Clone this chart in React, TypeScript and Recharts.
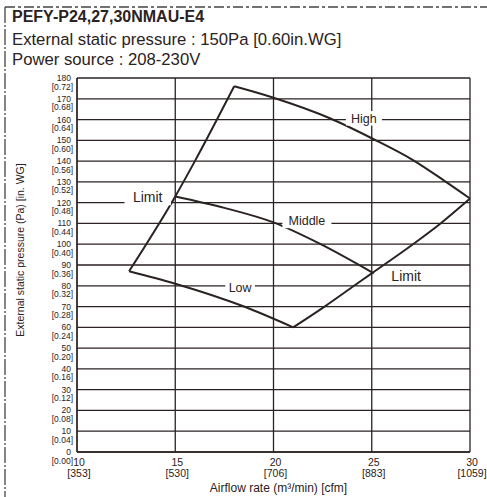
import { CartesianGrid, Label, Line, LineChart, ReferenceDot, XAxis, YAxis } from 'recharts';

const INK = '#2b2222';
const FONT = '"Liberation Sans", Arial, sans-serif';

const headerLines = [
  'PEFY-P24,27,30NMAU-E4',
  'External static pressure : 150Pa [0.60in.WG]',
  'Power source : 208-230V',
];

const flowTicks = [10, 15, 20, 25, 30];
const cfmLabels = ['353', '530', '706', '883', '1059'];
const pressureTicks = [0, 10, 20, 30, 40, 50, 60, 70, 80, 90, 100, 110, 120, 130, 140, 150, 160, 170, 180];
const inWgLabels = [
  '0.00', '0.04', '0.08', '0.12', '0.16', '0.20', '0.24', '0.28', '0.32', '0.36',
  '0.40', '0.44', '0.48', '0.52', '0.56', '0.60', '0.64', '0.68', '0.72',
];

// fan curves, airflow m3/min vs external static pressure Pa
const highFlow = [18, 20, 22.9, 25, 27.1, 28.7, 30];
const highPa = [176, 170.5, 160.5, 151, 140.5, 130.5, 122];
const middleFlow = [15, 17.5, 20, 22.3, 25.1];
const middlePa = [123, 117.5, 110.5, 100.5, 86];
const lowFlow = [12.65, 15, 18.5, 21];
const lowPa = [87, 81, 70, 60];
const limitLeftFlow = [12.65, 15, 16, 18];
const limitLeftPa = [87, 123, 140, 176];
const limitRightFlow = [21, 22.6, 24.1, 25, 27.1, 28.5, 30];
const limitRightPa = [60, 70, 80, 86, 100, 110, 122];

const tagText = ['High', 'Middle', 'Low', 'Limit', 'Limit'];
const tagFlow = [24.6, 21.7, 18.3, 13.6, 26.75];
const tagPa = [160.6, 111.2, 79, 122.6, 84.7];

const zip = (xs: number[], ys: number[]) => xs.map((x, i) => ({ x, y: ys[i] }));

const curves = [
  zip(highFlow, highPa),
  zip(middleFlow, middlePa),
  zip(lowFlow, lowPa),
  zip(limitLeftFlow, limitLeftPa),
  zip(limitRightFlow, limitRightPa),
];

const PressureTick = ({ x, y, payload }: any) => {
  const i = pressureTicks.indexOf(payload.value);
  return (
    <g fill={INK} fontFamily={FONT} fontSize={8.5}>
      <text x={x} y={y + 3} textAnchor="end">{payload.value}</text>
      <text x={x + 2} y={y + 11.5} textAnchor="end">[{inWgLabels[i]}]</text>
    </g>
  );
};

const FlowTick = ({ x, y, payload }: any) => {
  const i = flowTicks.indexOf(payload.value);
  return (
    <g fill={INK} fontFamily={FONT} fontSize={10.5} textAnchor="middle">
      <text x={x + 2} y={y + 14}>{payload.value}</text>
      <text x={x + 2} y={y + 24.5}>[{cfmLabels[i]}]</text>
    </g>
  );
};

const CurveTag = ({ cx, cy, text }: any) => {
  const size = text === 'Limit' ? 14 : 12.5;
  const w = text.length * size * 0.52 + 10;
  return (
    <g>
      <rect x={cx - w / 2} y={cy - size / 2 - 1} width={w} height={size + 2} fill="#fff" />
      <text x={cx} y={cy + size * 0.36} textAnchor="middle" fontSize={size} fontFamily={FONT} fill={INK}>
        {text}
      </text>
    </g>
  );
};

export default function App() {
  return (
    <div style={{ position: 'absolute', left: 0, top: 0, width: 487, height: 497, background: '#fff' }}>
      <LineChart width={487} height={497} margin={{ top: 78, right: 17, bottom: 0, left: 0 }}>
        <CartesianGrid stroke={INK} strokeWidth={1.3} />
        <XAxis
          type="number"
          dataKey="x"
          domain={[10, 30]}
          ticks={flowTicks}
          interval={0}
          height={45}
          tickSize={0}
          tickMargin={0}
          axisLine={{ stroke: INK, strokeWidth: 1.3 }}
          tick={<FlowTick />}
        >
          <Label
            value="Airflow rate (m³/min) [cfm]"
            position="insideBottom"
            offset={5}
            dx={5}
            style={{ fontSize: 12, fontFamily: FONT, fill: INK }}
          />
        </XAxis>
        <YAxis
          type="number"
          dataKey="y"
          domain={[0, 180]}
          ticks={pressureTicks}
          interval={0}
          width={77}
          tickSize={0}
          tickMargin={6}
          axisLine={{ stroke: INK, strokeWidth: 1.3 }}
          tick={<PressureTick />}
        />
        {curves.map((data, i) => (
          <Line
            key={i}
            data={data}
            dataKey="y"
            type="monotone"
            stroke={INK}
            strokeWidth={2}
            dot={false}
            activeDot={false}
            isAnimationActive={false}
          />
        ))}
        {tagText.map((t, i) => (
          <ReferenceDot
            key={i}
            x={tagFlow[i]}
            y={tagPa[i]}
            r={0}
            shape={(p: any) => <CurveTag {...p} text={t} />}
          />
        ))}
      </LineChart>
      <svg width={487} height={497} style={{ position: 'absolute', left: 0, top: 0, pointerEvents: 'none' }}>
        <line x1={5} y1={7} x2={487} y2={7} stroke="#444" strokeWidth={1.3} strokeDasharray="10 3 3 3" />
        <line x1={5} y1={7} x2={5} y2={497} stroke="#444" strokeWidth={1.3} strokeDasharray="16 2 2 2" />
        <g fill={INK} fontFamily={FONT}>
          <text x={12} y={22} fontSize={16} fontWeight="bold">{headerLines[0]}</text>
          <text x={12} y={45} fontSize={16.7}>{headerLines[1]}</text>
          <text x={12} y={65} fontSize={16.7}>{headerLines[2]}</text>
          <text
            x={20}
            y={250}
            fontSize={10.5}
            textAnchor="middle"
            dominantBaseline="central"
            transform="rotate(-90 20 250)"
          >
            External static pressure (Pa) [in. WG]
          </text>
        </g>
      </svg>
    </div>
  );
}
